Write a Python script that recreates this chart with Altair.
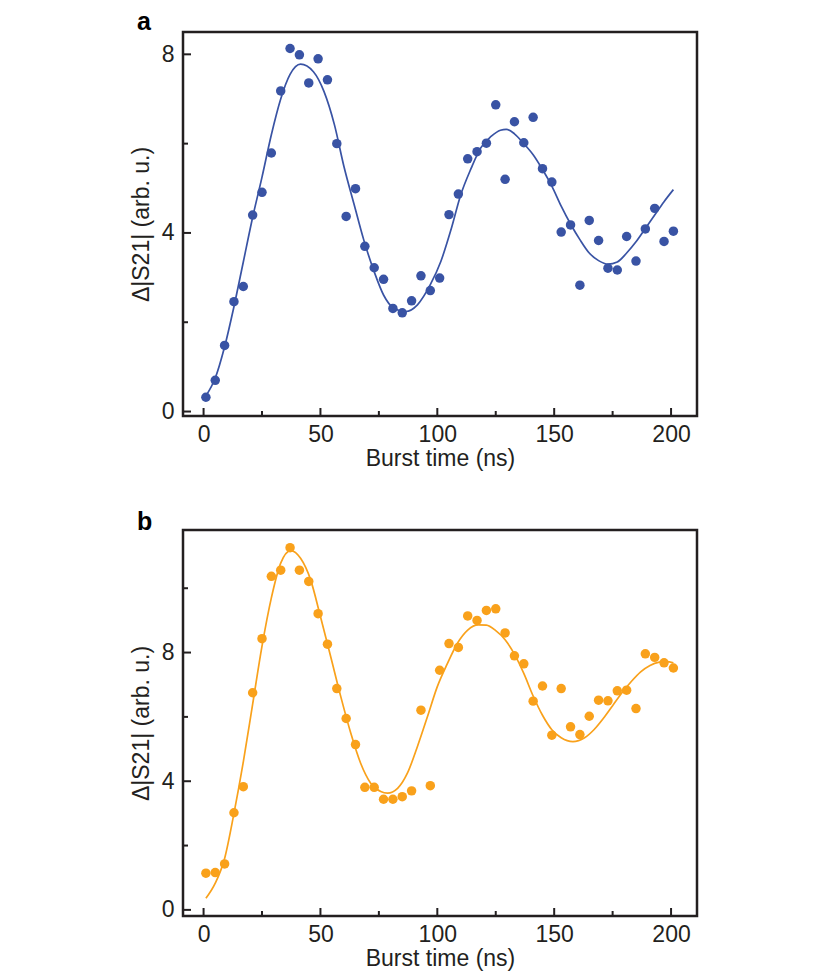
import altair as alt
import pandas as pd

# ---------------- data ----------------
burst_t = [1, 5, 9, 13, 17, 21, 25, 29, 33, 37, 41, 45, 49, 53, 57, 61, 65, 69, 73, 77,
           81, 85, 89, 93, 97, 101, 105, 109, 113, 117, 121, 125, 129, 133, 137, 141, 145,
           149, 153, 157, 161, 165, 169, 173, 177, 181, 185, 189, 193, 197, 201]

a_vals = [0.32, 0.70, 1.48, 2.46, 2.80, 4.40, 4.91, 5.79, 7.18, 8.13, 7.99, 7.36, 7.90,
          7.43, 6.00, 4.37, 4.99, 3.70, 3.22, 2.96, 2.31, 2.21, 2.48, 3.04, 2.71, 2.99,
          4.41, 4.87, 5.66, 5.82, 6.01, 6.87, 5.20, 6.49, 6.02, 6.59, 5.44, 5.14, 4.02,
          4.18, 2.83, 4.28, 3.83, 3.21, 3.17, 3.92, 3.37, 4.09, 4.55, 3.81, 4.04]

b_vals = [1.14, 1.16, 1.43, 3.02, 3.83, 6.75, 8.43, 10.37, 10.56, 11.26, 10.56, 10.21,
          9.21, 8.26, 6.88, 5.95, 5.14, 3.81, 3.81, 3.44, 3.44, 3.52, 3.70, 6.21, 3.86,
          7.45, 8.28, 8.16, 9.14, 9.00, 9.31, 9.36, 8.61, 7.90, 7.65, 6.49, 6.96, 5.43,
          6.88, 5.69, 5.45, 6.02, 6.52, 6.50, 6.81, 6.83, 6.26, 7.96, 7.85, 7.68, 7.52]

a_fit_t = [1, 5, 9, 13, 17, 21, 25, 29, 33, 37, 41.5, 47, 51.5, 56, 60, 64.5, 68.5, 73,
           77, 81.5, 86.5, 91.5, 97, 101.5, 106, 110, 114.5, 118.5, 123, 127, 129.5, 133,
           137, 141, 145, 149, 153, 157, 161, 165, 169, 173, 177, 181, 185, 189, 193, 197, 201]
a_fit_v = [0.35, 0.75, 1.45, 2.35, 3.35, 4.35, 5.25, 6.2, 7.0, 7.55, 7.78, 7.61, 7.17,
           6.42, 5.5, 4.62, 3.85, 3.13, 2.61, 2.31, 2.24, 2.39, 2.84, 3.36, 4.10, 4.85,
           5.45, 5.90, 6.16, 6.30, 6.32, 6.22, 6.0, 5.75, 5.42, 5.05, 4.6, 4.2, 3.85,
           3.55, 3.38, 3.3, 3.35, 3.55, 3.8, 4.1, 4.4, 4.7, 4.97]

b_fit_t = [1, 5, 9, 13, 17, 21, 25, 29, 33, 37.3, 41.5, 45.8, 50, 54.4, 58.7, 63, 67.2,
           71.5, 75.8, 78.7, 83, 87.2, 91.5, 95.8, 100, 104.4, 108.6, 113, 117.5, 121, 125,
           129, 133, 137, 141, 145, 149, 153, 158, 163, 167, 171, 175, 179, 183, 187, 191,
           195, 198, 201]
b_fit_v = [0.36, 0.83, 1.6, 3.0, 4.6, 6.4, 8.2, 9.7, 10.78, 11.17, 10.93, 10.26, 9.12,
           7.87, 6.63, 5.49, 4.56, 3.94, 3.68, 3.63, 3.78, 4.25, 5.08, 6.01, 6.94, 7.67,
           8.29, 8.70, 8.86, 8.85, 8.68, 8.4, 7.95, 7.35, 6.65, 6.05, 5.6, 5.35, 5.23,
           5.35, 5.6, 5.95, 6.35, 6.75, 7.1, 7.4, 7.6, 7.7, 7.72, 7.68]

x_major = [0, 50, 100, 150, 200]
x_minor = [25, 75, 125, 175]
y_labels = [0, 4, 8]
a_y_minor = [2, 6]
b_y_minor = [2, 6, 10]

BLUE = "#3953a4"
ORANGE = "#f9a11b"
DARK = "#231f20"
FONT = "Liberation Sans"

W = 514
H_A = 384
H_B = 386
MAJ = 8
MIN = 5


def panel(letter, vals, fit_t, fit_v, color, ydom, h, yminor, ly):
    pts = pd.DataFrame({"t": burst_t, "v": vals})
    fit = pd.DataFrame({"t": fit_t, "v": fit_v})
    xenc = alt.X("t:Q", scale=alt.Scale(domain=[-8.8, 211.1], nice=False, zero=False),
                 axis=alt.Axis(values=x_major, title="Burst time (ns)"))
    yenc = alt.Y("v:Q", scale=alt.Scale(domain=ydom, nice=False, zero=False),
                 axis=alt.Axis(values=y_labels, title="Δ|S21| (arb. u.)"))

    dots = alt.Chart(pts).mark_circle(size=90, opacity=1, color=color).encode(x=xenc, y=yenc)
    line = alt.Chart(fit).mark_line(color=color, strokeWidth=1.7,
                                    interpolate="monotone").encode(x=xenc, y=yenc)

    def xt(vals_, L):
        return alt.Chart(pd.DataFrame({"t": vals_})).mark_rule(
            color=DARK, strokeWidth=2).encode(x=xenc, y=alt.value(h), y2=alt.value(h - L))

    def yt(vals_, L):
        return alt.Chart(pd.DataFrame({"v": vals_})).mark_rule(
            color=DARK, strokeWidth=2).encode(y=yenc, x=alt.value(0), x2=alt.value(L))

    lab = alt.Chart(pd.DataFrame({"l": [letter]})).mark_text(
        font=FONT, fontSize=25, fontWeight="bold", color="#000000",
        align="left", baseline="alphabetic"
    ).encode(text="l:N", x=alt.value(-46), y=alt.value(ly))

    layers = alt.layer(dots, line, xt(x_major, MAJ), xt(x_minor, MIN),
                       yt(y_labels, MAJ), yt(yminor, MIN), lab)
    return layers.properties(width=W, height=h)


top = panel("a", a_vals, a_fit_t, a_fit_v, BLUE, [-0.1, 8.5], H_A, a_y_minor, -2)
bot = panel("b", b_vals, b_fit_t, b_fit_v, ORANGE, [-0.19, 11.81], H_B, b_y_minor, 0)

chart = alt.vconcat(top, bot, spacing=36).properties(
    padding={"left": 120, "top": 0, "right": 5, "bottom": 5}
).configure_view(
    stroke=DARK, strokeWidth=2.5
).configure_axis(
    labelFont=FONT, titleFont=FONT, labelFontSize=23, titleFontSize=23,
    labelColor=DARK, titleColor=DARK, titleFontWeight="normal",
    domain=False, ticks=False, tickSize=0, grid=False,
).configure_axisX(
    labelPadding=7, titlePadding=1
).configure_axisY(
    labelPadding=9, titlePadding=8
)

chart.save("out.html", embed_options={"renderer": "svg", "actions": False})
